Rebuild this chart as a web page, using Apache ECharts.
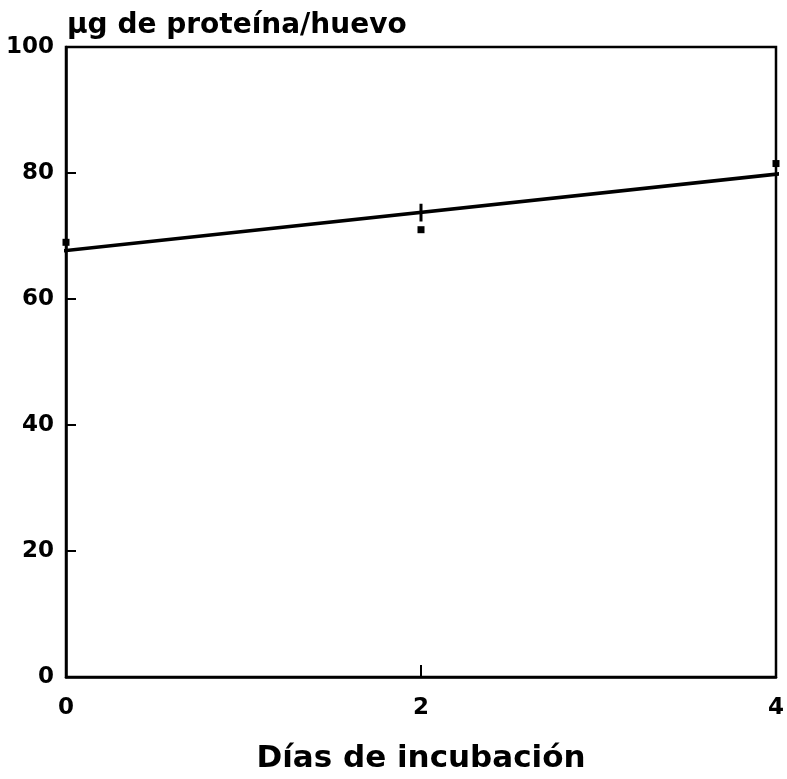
<!DOCTYPE html>
<html>
<head>
<meta charset="utf-8">
<script src="https://cdn.jsdelivr.net/npm/echarts@6/dist/echarts.min.js"></script>
<style>
  html, body { margin: 0; padding: 0; background: #fff; }
  #chart { width: 787px; height: 779px; }
</style>
</head>
<body>
<div id="chart"></div>
<script>
// datos
var dias = [0, 2, 4];
var proteina = [69, 71, 81.5];
var recta = [[-0.025, 67.6], [4.03, 79.9]];   // recta de regresion
var barraError = [[2, 72.3], [2, 75.1]];      // barra en dia 2
var ticksY = [0, 20, 40, 60, 80, 100];

var fuente = 'DejaVu Sans';
var vm = echarts.init(document.getElementById('chart'));

var option = {
  backgroundColor: '#fff',
  animation: false,
  title: {
    text: 'µg de proteína/huevo',
    left: 62,
    top: 7,
    textStyle: { fontFamily: fuente, fontWeight: 'bold', fontSize: 28, color: '#000' }
  },
  grid: {
    left: 66, right: 10, top: 47, bottom: 90,
    show: true, borderColor: '#000', borderWidth: 2.5
  },
  xAxis: {
    type: 'value',
    min: 0, max: 4, interval: 2,
    name: 'Días de incubación',
    nameLocation: 'middle',
    nameGap: 66,
    nameTextStyle: { fontFamily: fuente, fontWeight: 'bold', fontSize: 31, color: '#000' },
    axisLine: { show: true, lineStyle: { color: '#000', width: 2.5 } },
    axisTick: { show: true, inside: true, length: 12, lineStyle: { color: '#000', width: 2 } },
    axisLabel: { fontFamily: fuente, fontWeight: 'bold', fontSize: 23, color: '#000', margin: 20 },
    splitLine: { show: false }
  },
  yAxis: {
    type: 'value',
    min: ticksY[0], max: ticksY[ticksY.length - 1], interval: 20,
    axisLine: { show: true, lineStyle: { color: '#000', width: 2.5 } },
    axisTick: { show: true, inside: true, length: 10, lineStyle: { color: '#000', width: 2 } },
    axisLabel: { fontFamily: fuente, fontWeight: 'bold', fontSize: 23, color: '#000', margin: 12 },
    splitLine: { show: false }
  },
  series: [
    {
      type: 'line',
      data: recta,
      showSymbol: false,
      clip: false,
      lineStyle: { color: '#000', width: 3.5 },
      z: 3
    },
    {
      type: 'line',
      data: barraError,
      showSymbol: false,
      lineStyle: { color: '#000', width: 3 },
      z: 3
    },
    {
      type: 'scatter',
      data: dias.map(function (d, i) { return [d, proteina[i]]; }),
      symbol: 'rect',
      symbolSize: 7,
      clip: false,
      itemStyle: { color: '#000', opacity: 1 },
      z: 4
    }
  ]
};
vm.setOption(option);
</script>
</body>
</html>
